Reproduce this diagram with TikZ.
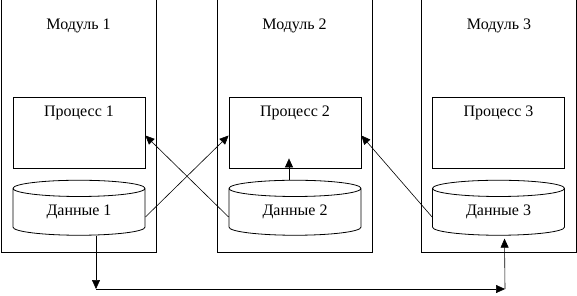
\documentclass[tikz,border=0pt]{standalone}
\usepackage{fontspec}
\setmainfont{Liberation Serif}
\usetikzlibrary{arrows.meta,positioning,shapes.geometric}
\definecolor{figink}{HTML}{000000}

\begin{document}
\begin{tikzpicture}[
    x=1pt, y=-1pt,
    every node/.style={font=\fontsize{16}{18}\selectfont, inner sep=0pt},
    modul/.style={draw=figink, line width=0.8pt, minimum width=155pt, minimum height=253pt},
    proc/.style={draw=figink, line width=0.8pt, minimum width=132pt, minimum height=71pt},
    daten/.style={draw=figink, line width=0.8pt, cylinder, shape border rotate=90,
      aspect=0.25, minimum width=132pt, minimum height=55pt},
    link/.style={-{Triangle[length=9pt,width=8pt]}, figink, line width=0.6pt},
  ]
  \useasboundingbox (0,0) rectangle (577,295);

  % Module
  \node[modul] (m1) at (78.5,125.5) {};
  \node[modul] (m2) at (294.5,125.5) {};
  \node[modul] (m3) at (499,125.5) {};
  \node (m1t) at ([yshift=-27pt]m1.north) {Модуль 1};
  \node (m2t) at ([yshift=-27pt]m2.north) {Модуль 2};
  \node (m3t) at ([yshift=-27pt]m3.north) {Модуль 3};

  % Prozesse
  \node[proc] (p1) at (79,132.5) {};
  \node[proc] (p2) at (295,132.5) {};
  \node[proc] (p3) at (498.5,132.5) {};
  \node (p1t) at ([yshift=-16pt]p1.north) {Процесс 1};
  \node (p2t) at ([yshift=-16pt]p2.north) {Процесс 2};
  \node (p3t) at ([yshift=-16pt]p3.north) {Процесс 3};

  % Daten
  \node[daten] (d1) at (79,212) {Данные 1};
  \node[daten] (d2) at (295,212) {Данные 2};
  \node[daten] (d3) at (498.5,212) {Данные 3};

  \draw[link] ([yshift=-5pt]d1.east) -- ([yshift=-3pt]p2.west);
  \draw[link] ([yshift=-5pt]d2.west) -- ([yshift=-3pt]p1.east);
  \draw[link] ([yshift=-5pt]d3.west) -- ([yshift=-3pt]p2.east);
  \draw[link] ([xshift=-6pt]d2.north) -- ([xshift=-6pt,yshift=10pt]p2.south);

  \coordinate (c1) at (96,289);
  \coordinate (c2) at (505,289);
  \draw[link] ([xshift=17pt]d1.south) -- (c1);
  \draw[link] (c1) -- (c2);
  \draw[link] (c2) -- ([xshift=6pt,yshift=-3pt]d3.south);
\end{tikzpicture}
\end{document}
